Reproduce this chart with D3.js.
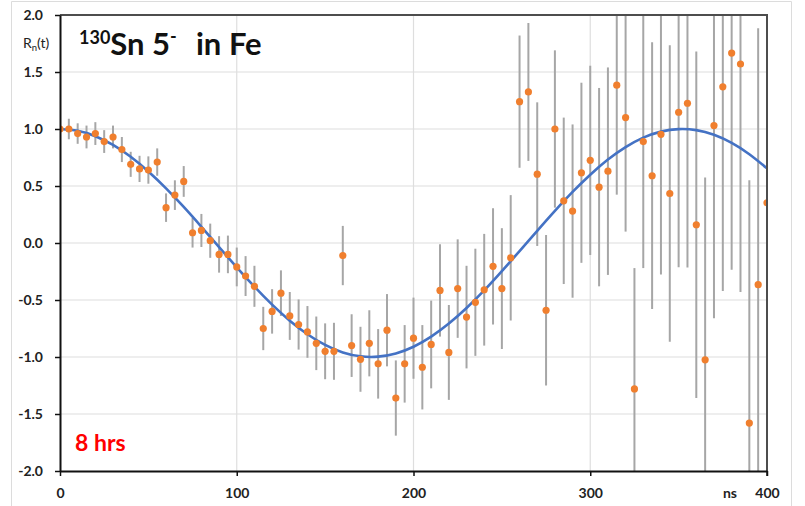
<!DOCTYPE html>
<html>
<head>
<meta charset="utf-8">
<script src="https://cdn.jsdelivr.net/npm/d3@7"></script>
<style>
  body { margin: 0; background: #fff; }
  svg { display: block; font-family: Lato, 'Open Sans', sans-serif; }
</style>
</head>
<body>
<div id="chart"></div>
<script>
// measured points, every 5 ns
const times = [
  0, 5, 10, 15, 20, 25, 30, 35, 40, 45, 50, 55, 60, 65, 70, 75, 80, 85, 90, 95,
  100, 105, 110, 115, 120, 125, 130, 135, 140, 145, 150, 155, 160, 165, 170, 175, 180, 185, 190, 195,
  200, 205, 210, 215, 220, 225, 230, 235, 240, 245, 250, 255, 260, 265, 270, 275, 280, 285, 290, 295,
  300, 305, 310, 315, 320, 325, 330, 335, 340, 345, 350, 355, 360, 365, 370, 375, 380, 385, 390, 395, 400
];
const ratios = [
  1.00, 1.00, 0.96, 0.93, 0.96, 0.89, 0.93, 0.82, 0.69, 0.65, 0.64, 0.71, 0.31, 0.42, 0.54, 0.09, 0.11, 0.02, -0.10, -0.10,
  -0.21, -0.29, -0.38, -0.75, -0.60, -0.44, -0.64, -0.715, -0.78, -0.88, -0.95, -0.95, -0.11, -0.90, -1.02, -0.88, -1.06, -0.765, -1.36, -1.06,
  -0.835, -1.09, -0.89, -0.416, -0.96, -0.40, -0.65, -0.52, -0.41, -0.205, -0.40, -0.13, 1.24, 1.325, 0.604, -0.59, 1.00, 0.37, 0.28, 0.616,
  0.725, 0.49, 0.63, 1.384, 1.10, -1.28, 0.89, 0.59, 0.953, 0.434, 1.147, 1.226, 0.16, -1.025, 1.03, 1.37, 1.666, 1.57, -1.58, -0.366, 0.352
];
const errors = [
  0, 0.09, 0.09, 0.10, 0.10, 0.10, 0.10, 0.11, 0.11, 0.115, 0.12, 0.12, 0.125, 0.13, 0.135, 0.13, 0.145, 0.15, 0.16, 0.165,
  0.17, 0.175, 0.18, 0.19, 0.195, 0.20, 0.21, 0.22, 0.227, 0.235, 0.245, 0.25, 0.26, 0.275, 0.285, 0.29, 0.305, 0.317, 0.33, 0.34,
  0.356, 0.37, 0.385, 0.405, 0.416, 0.432, 0.45, 0.47, 0.49, 0.51, 0.53, 0.55, 0.58, 0.605, 0.63, 0.66, 0.69, 0.73, 0.76, 0.79,
  0.83, 0.87, 0.91, 0.96, 1.00, 1.06, 1.11, 1.17, 1.23, 1.30, 1.36, 1.44, 1.52, 1.60, 1.69, 1.79, 1.90, 2.00, 2.13, 2.25, 2.38
];

// fitted curve, read every 10 ns
const fitTimes = [
  0, 10, 20, 30, 40, 50, 60, 70, 80, 90, 100, 110, 120, 130, 140, 150, 160, 170, 180, 190,
  200, 210, 220, 230, 240, 250, 260, 270, 280, 290, 300, 310, 320, 330, 340, 350, 360, 370, 380, 390, 400
];
const fitValues = [
  1.000, 0.984, 0.937, 0.860, 0.756, 0.627, 0.479, 0.316, 0.142, -0.036, -0.213, -0.383, -0.541, -0.681, -0.800, -0.894, -0.960, -0.994, -0.997, -0.969,
  -0.910, -0.821, -0.707, -0.570, -0.416, -0.247, -0.071, 0.107, 0.282, 0.448, 0.599, 0.732, 0.841, 0.924, 0.977, 0.999, 0.990, 0.949, 0.878, 0.779, 0.655
];

const xTicks = [0, 100, 200, 300, 400];
const yTicks = [-2, -1.5, -1, -0.5, 0, 0.5, 1, 1.5, 2];

const width = 805;
const height = 506;
const plot = { left: 60, right: 767, top: 15, bottom: 471 };

const svg = d3.select('#chart').append('svg')
  .attr('width', width)
  .attr('height', height);

svg.append('rect')
  .attr('width', width)
  .attr('height', height)
  .attr('fill', '#fff');

// outer frame of the pasted chart
svg.append('path')
  .attr('d', 'M11.5,506 V1.5 H791.5 V506')
  .attr('fill', 'none')
  .attr('stroke', '#dcdcdc')
  .attr('stroke-width', 1);

const x = d3.scaleLinear().domain([0, 400]).range([plot.left, plot.right]);
const y = d3.scaleLinear().domain([-2, 2]).range([plot.bottom, plot.top]);

// gridlines
svg.append('g')
  .selectAll('line')
  .data(yTicks.filter(v => v > -2 && v < 2))
  .enter()
  .append('line')
  .attr('x1', plot.left).attr('x2', plot.right)
  .attr('y1', d => y(d)).attr('y2', d => y(d))
  .attr('stroke', '#dedede')
  .attr('stroke-width', 1.2);

svg.append('g')
  .selectAll('line')
  .data(xTicks.filter(v => v > 0 && v < 400))
  .enter()
  .append('line')
  .attr('x1', d => x(d)).attr('x2', d => x(d))
  .attr('y1', plot.top).attr('y2', plot.bottom)
  .attr('stroke', '#dedede')
  .attr('stroke-width', 1.2);

svg.append('defs').append('clipPath')
  .attr('id', 'plot-clip')
  .append('rect')
  .attr('x', plot.left).attr('y', plot.top)
  .attr('width', plot.right - plot.left)
  .attr('height', plot.bottom - plot.top);

const points = times.map((t, i) => ({ t: t, v: ratios[i], e: errors[i] }));

const body = svg.append('g').attr('clip-path', 'url(#plot-clip)');

// error bars
body.append('g')
  .selectAll('line')
  .data(points.filter(d => d.e > 0))
  .enter()
  .append('line')
  .attr('x1', d => x(d.t)).attr('x2', d => x(d.t))
  .attr('y1', d => y(d.v + d.e)).attr('y2', d => y(d.v - d.e))
  .attr('stroke', '#a6a6a6')
  .attr('stroke-width', 2);

// fit
const fit = fitTimes.map((t, i) => [t, fitValues[i]]);
body.append('path')
  .datum(fit)
  .attr('fill', 'none')
  .attr('stroke', '#4472c4')
  .attr('stroke-width', 2.6)
  .attr('d', d3.line().x(d => x(d[0])).y(d => y(d[1])).curve(d3.curveNatural));

// data points
body.append('g')
  .selectAll('circle')
  .data(points)
  .enter()
  .append('circle')
  .attr('cx', d => x(d.t))
  .attr('cy', d => y(d.v))
  .attr('r', 3.6)
  .attr('fill', '#f07f2e');

// plot border top/right
svg.append('path')
  .attr('d', `M${plot.left},${plot.top} H${plot.right} V${plot.bottom + 5}`)
  .attr('fill', 'none')
  .attr('stroke', '#4d4d4d')
  .attr('stroke-width', 2);

// axes
const fmt = v => d3.format('.1f')(v).replace('\u2212', '-');

const yAxis = svg.append('g')
  .attr('transform', `translate(${plot.left},0)`)
  .call(d3.axisLeft(y).tickValues(yTicks).tickSize(5).tickSizeOuter(0).tickPadding(12).tickFormat(fmt));

const xAxis = svg.append('g')
  .attr('transform', `translate(0,${plot.bottom})`)
  .call(d3.axisBottom(x).tickValues(xTicks).tickSize(5).tickSizeOuter(0).tickPadding(12));

[yAxis, xAxis].forEach(ax => {
  ax.select('.domain').attr('stroke', '#111').attr('stroke-width', 2);
  ax.selectAll('.tick line').attr('stroke', '#111').attr('stroke-width', 1.5);
  ax.selectAll('.tick text')
    .attr('fill', '#222')
    .attr('font-size', '14px')
    .attr('font-weight', 'bold')
    .attr('font-family', 'Lato, sans-serif');
});

svg.append('text')
  .attr('x', 730)
  .attr('y', 498)
  .attr('text-anchor', 'middle')
  .attr('font-size', '14px')
  .attr('font-weight', 'bold')
  .attr('fill', '#222')
  .text('ns');

// y axis label R_n(t)
const yLabel = svg.append('text')
  .attr('x', 23)
  .attr('y', 48)
  .attr('font-size', '14px')
  .attr('fill', '#222');
yLabel.append('tspan').text('R');
yLabel.append('tspan').attr('font-size', '9.5px').attr('dy', 3).text('n');
yLabel.append('tspan').attr('dy', -3).text('(t)');

// title
const title = svg.append('text')
  .attr('x', 79)
  .attr('y', 55)
  .attr('font-weight', 'bold')
  .attr('fill', '#111');
title.append('tspan').attr('font-size', '18px').attr('dy', -11).text('130');
title.append('tspan').attr('font-size', '31px').attr('dy', 11).text('Sn 5');
title.append('tspan').attr('font-size', '18px').attr('dy', -12).text('-');
title.append('tspan').attr('font-size', '31px').attr('dy', 12).attr('x', 196).text('in Fe');

svg.append('text')
  .attr('x', 75)
  .attr('y', 451)
  .attr('font-size', '23px')
  .attr('font-weight', 'bold')
  .attr('fill', '#ff0000')
  .text('8 hrs');
</script>
</body>
</html>
